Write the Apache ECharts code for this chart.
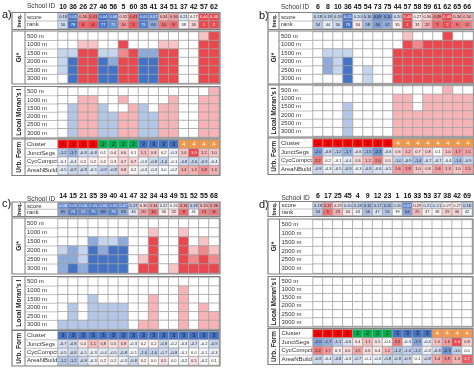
<!DOCTYPE html>
<html><head><meta charset="utf-8">
<script src="https://cdn.jsdelivr.net/npm/echarts@6/dist/echarts.min.js"></script>
<style>html,body{margin:0;padding:0;background:#fff}#c{width:474px;height:369px}</style>
</head><body><div id="c"></div>
<script>
// ---------- row / tick labels ----------
const ineqRows = ['score', 'rank'];
const distRows = ['500 m', '1000 m', '1500 m', '2000 m', '2500 m', '3000 m'];
const formRows = ['Cluster', 'JunctSegs', 'CycCompct', 'AreaNBuild'];
const groupNames = ['Ineq.', 'Gi*', "Local Moran's I", 'Urb. Form'];
const panelLetters = ['a)', 'b)', 'c)', 'd)'];
const idHeader = 'School ID';

// ---------- panel a ----------
const idsA = [10, 36, 26, 27, 46, 56, 5, 60, 35, 41, 34, 51, 37, 42, 57, 62];
const scoreA = [0.18, 0.05, 0.36, 0.41, 0.04, 0.06, 0.32, 0.41, 0.05, 0.07, 0.34, 0.36, 0.21, 0.27, 0.46, 0.46];
const rankA = [50, 78, 6, 4, 77, 71, 16, 5, 75, 63, 10, 8, 38, 30, 1, 2];
const giA = [[0,0,-1,-1,-1,0],[0,0,-1,-3,-3,-3],[0,1,3,3,3,3],[0,1,3,3,3,3],[0,0,-1,-3,-3,-3],[0,0,-1,-2,-3,-3],[0,3,2,3,3,3],[0,0,3,3,3,3],[0,0,-2,-3,-3,-3],[0,0,-2,-3,-3,-3],[0,1,3,3,3,3],[0,1,3,3,3,3],[0,0,0,0,0,0],[0,0,0,0,0,0],[1,3,3,3,3,3],[3,3,3,3,3,3]];
const moranA = [[0,0,0,0,0,0],[0,0,-1,-1,-1,-1],[0,1,1,1,1,1],[0,1,1,1,1,1],[0,0,-1,-1,-1,-1],[0,0,0,-1,-1,-1],[0,1,0,1,1,1],[0,0,1,1,1,1],[0,0,-1,-1,-1,-1],[0,0,0,-1,-1,-1],[0,0,1,1,1,1],[0,1,1,1,1,1],[0,0,0,0,0,0],[0,0,0,0,0,0],[0,1,1,1,1,1],[1,1,1,1,1,1]];
const clusterA = [1,1,1,1,2,2,2,2,3,3,3,3,4,4,4,4];
const junctA = [-1.2,-1.7,-0.8,-0.8,0.1,0.4,0.6,0.1,1.1,0.8,0.2,-0.3,1.0,3.0,1.2,1.0];
const cycA = [-0.1,-0.4,0.2,0.2,0.2,0.3,0.7,0.7,-0.3,-0.8,-1.0,-0.1,-0.8,-1.0,-0.9,-0.4];
const areaA = [-0.5,-0.9,-0.8,-0.5,-0.9,-0.8,0.8,0.2,-0.3,-0.3,0.0,-0.2,1.4,1.3,1.8,1.3];

// ---------- panel b ----------
const idsB = [6, 8, 10, 36, 45, 54, 73, 75, 44, 57, 58, 59, 61, 62, 65, 66];
const scoreB = [0.18, 0.18, 0.18, 0.05, 0.20, 0.16, 0.09, 0.10, 0.20, 0.46, 0.27, 0.30, 0.39, 0.46, 0.34, 0.34];
const rankB = [54, 44, 50, 78, 34, 58, 66, 62, 35, 1, 31, 22, 7, 2, 9, 12];
const giB = [[0,0,0,0,0,0],[0,0,-1,-2,-2,0],[0,0,-1,-1,-1,0],[0,0,-1,-3,-3,-3],[0,0,0,0,0,0],[0,0,0,0,-1,-1],[0,0,0,0,0,0],[0,0,0,0,0,0],[0,0,3,3,3,3],[1,3,3,3,3,3],[0,2,3,3,3,3],[0,3,3,3,3,3],[0,3,3,3,3,3],[3,3,3,3,3,3],[0,3,3,3,3,3],[0,3,3,3,3,3]];
const moranB = [[0,0,0,0,0,0],[0,0,0,0,0,0],[0,0,0,0,0,0],[0,0,-1,-1,-1,-1],[0,0,0,0,0,0],[0,0,0,0,0,0],[0,0,0,0,0,0],[0,0,0,0,0,0],[0,1,1,1,1,1],[0,1,1,1,1,1],[0,0,0,1,1,1],[0,1,1,1,1,1],[0,1,1,1,1,1],[1,1,1,1,1,1],[0,1,1,1,1,1],[0,1,1,1,1,1]];
const clusterB = [1,1,1,1,1,1,1,1,4,4,4,4,4,4,4,4];
const junctB = [-2.0,-0.8,-1.2,-1.7,-0.6,-1.5,-2.3,-0.6,0.6,1.2,0.7,0.8,0.1,1.0,1.7,1.5];
const cycB = [2.2,0.2,-0.1,-0.4,0.6,1.2,2.0,0.5,-1.0,-0.9,-1.4,-0.7,-0.7,-0.4,-1.4,-0.9];
const areaB = [-0.8,-0.3,-0.5,-0.9,-0.3,-0.8,-0.6,-0.5,1.6,1.8,1.0,0.8,1.6,1.3,1.0,1.5];

// ---------- panel c ----------
const idsC = [14, 15, 21, 35, 39, 40, 41, 47, 32, 34, 43, 49, 51, 52, 55, 68];
const scoreC = [0.08, 0.05, 0.06, 0.05, 0.06, 0.05, 0.07, 0.17, 0.30, 0.34, 0.22, 0.26, 0.36, 0.18, 0.33, 0.36];
const rankC = [65, 74, 72, 75, 69, 73, 63, 46, 20, 10, 36, 32, 8, 41, 13, 11];
const giC = [[0,0,0,-1,-2,-2],[0,0,0,-2,-2,-3],[0,0,0,-1,-1,-2],[0,0,-2,-3,-3,-3],[0,0,-1,-2,-3,-3],[0,0,-1,-3,-3,-3],[0,0,-2,-3,-3,-3],[0,0,0,0,0,0],[0,0,0,0,1,3],[0,1,3,3,3,3],[0,0,0,0,0,0],[0,0,0,0,0,1],[0,1,3,3,3,3],[0,0,0,1,2,3],[0,0,1,2,3,3],[0,0,0,1,2,3]];
const moranC = [[0,0,0,0,0,-1],[0,0,0,-1,-1,-1],[0,0,0,0,0,-1],[0,0,-1,-1,-1,-1],[0,0,0,-1,-1,-1],[0,0,0,-1,-1,-1],[0,0,0,-1,-1,-1],[0,0,0,0,0,0],[0,0,0,0,0,1],[0,0,1,1,1,1],[0,0,0,0,0,0],[0,0,0,0,0,0],[0,1,1,1,1,1],[0,0,0,0,0,0],[0,0,0,1,1,1],[0,0,0,0,1,1]];
const clusterC = [3,3,3,3,3,3,3,3,3,3,3,3,3,3,3,3];
const junctC = [-0.7,-0.8,0.4,1.1,0.8,0.5,0.8,-0.3,0.2,0.2,-0.8,-0.2,-0.3,-0.7,-0.2,-0.9];
const cycC = [-0.5,-0.8,-0.5,-0.3,-0.4,-0.5,-0.8,-0.1,-1.0,-1.0,-0.7,-0.8,-0.1,0.0,-0.1,-0.3];
const areaC = [-1.2,-1.2,-0.8,-0.3,0.2,0.2,-0.3,-0.8,0.2,0.0,0.5,0.0,-0.2,0.5,-0.2,0.1];

// ---------- panel d ----------
const idsD = [6, 17, 25, 45, 4, 9, 12, 23, 1, 16, 33, 53, 37, 38, 42, 69];
const scoreD = [0.18, 0.37, 0.29, 0.20, 0.18, 0.15, 0.17, 0.15, 0.20, 0.07, 0.29, 0.21, 0.21, 0.27, 0.27, 0.18];
const rankD = [54, 9, 23, 34, 43, 56, 47, 55, 39, 64, 25, 37, 38, 29, 30, 42];
const giD = [[0,0,0,0,0,0],[0,0,0,0,0,0],[0,0,0,0,0,0],[0,0,0,0,0,0],[0,0,0,0,0,0],[0,0,0,0,0,0],[0,0,0,0,0,0],[0,0,0,0,0,0],[0,0,0,0,0,0],[0,0,0,0,0,0],[0,0,0,0,0,0],[0,0,0,0,0,0],[0,0,0,0,0,0],[0,0,0,0,0,0],[0,0,0,0,0,0],[0,0,0,0,0,0]];
const moranD = [[0,0,0,0,0,0],[0,0,0,0,0,0],[0,0,0,0,0,0],[0,0,0,0,0,0],[0,0,0,0,0,0],[0,0,0,0,0,0],[0,0,0,0,0,0],[0,0,0,0,0,0],[0,0,0,0,0,0],[0,0,0,0,0,0],[0,0,0,0,0,0],[0,0,0,0,0,0],[0,0,0,0,0,0],[0,0,0,0,0,0],[0,0,0,0,0,0],[0,0,0,0,0,0]];
const clusterD = [1,1,1,1,2,2,2,2,3,3,3,3,4,4,4,4];
const junctD = [-2.0,-1.7,-1.1,-0.6,0.4,1.1,0.5,-0.1,2.2,-0.3,-1.9,-0.4,1.0,1.6,3.0,0.8];
const cycD = [2.2,1.7,0.3,0.6,1.5,0.6,0.4,1.2,-1.2,-1.0,-1.2,-0.3,-0.8,-2.3,-1.0,0.0];
const areaD = [-0.8,-0.4,-0.8,-0.3,-0.7,-0.1,-0.3,-0.8,-0.8,-0.9,0.1,-0.8,1.4,1.9,1.3,2.7];

const panels = [
  {ids: idsA, score: scoreA, rank: rankA, gi: giA, moran: moranA, cluster: clusterA, form: [junctA, cycA, areaA]},
  {ids: idsB, score: scoreB, rank: rankB, gi: giB, moran: moranB, cluster: clusterB, form: [junctB, cycB, areaB]},
  {ids: idsC, score: scoreC, rank: rankC, gi: giC, moran: moranC, cluster: clusterC, form: [junctC, cycC, areaC]},
  {ids: idsD, score: scoreD, rank: rankD, gi: giD, moran: moranD, cluster: clusterD, form: [junctD, cycD, areaD]}
];

// ---------- layout (pixels) ----------
const layout = [
  {cl: 58, cr: 219, bl: 12, sx: 25, idY: 6, lx: 2, ly: 15, g: [[13.5, 28.5], [32, 83], [87.5, 137], [140, 174.5]]},
  {cl: 313, cr: 473, bl: 268, sx: 279, idY: 7, lx: 259, ly: 16, g: [[13.5, 28.5], [32, 83], [86, 136], [139, 173.5]]},
  {cl: 58, cr: 219, bl: 12, sx: 25, idY: 199, lx: 2, ly: 204, g: [[203, 215.5], [219, 273], [277.5, 329], [331.5, 365]]},
  {cl: 313, cr: 472, bl: 268, sx: 279.5, idY: 198, lx: 259, ly: 205, g: [[202.5, 215.5], [220, 273], [277.5, 326], [329.5, 363.5]]}
];

const FONT = 'Liberation Sans';
const BLUE = '#4472c4', RED = '#e9484e';
const grids = [], xAxes = [], yAxes = [], series = [], graphics = [];
const idx = {score: [], rank: [], gi: [], moran: [], cluster: [], form: []};

function richLabel(fs, fmt, isStrong) {
  return {
    show: true, fontFamily: FONT,
    formatter: p => { const v = p.value[2]; const s = fmt(v); return isStrong(v) ? '{w|' + s + '}' : '{d|' + s + '}'; },
    rich: {d: {color: '#222', fontSize: fs, fontFamily: FONT}, w: {color: '#fff', fontSize: fs, fontFamily: FONT}}
  };
}
function hm(key, g, data, label) {
  idx[key].push(series.length);
  series.push({
    type: 'heatmap', xAxisIndex: g, yAxisIndex: g, data: data,
    itemStyle: {borderColor: '#a3a3a3', borderWidth: 0.8},
    label: label || {show: false}, emphasis: {disabled: true}, progressive: 0
  });
}

panels.forEach((p, pi) => {
  const L = layout[pi];
  const rowsets = [ineqRows, distRows, distRows, formRows];
  const gBase = grids.length;
  rowsets.forEach((rows, k) => {
    const g = grids.length;
    const top = L.g[k][0], bot = L.g[k][1];
    grids.push({left: L.cl, top: top, width: L.cr - L.cl, height: bot - top});
    xAxes.push({type: 'category', gridIndex: g, data: p.ids.map(String), position: 'top', show: k === 0,
      axisLine: {show: false}, axisTick: {show: false}, splitLine: {show: false},
      axisLabel: {interval: 0, margin: 3, fontFamily: FONT, fontSize: 7, fontWeight: 'bold', color: '#111'}});
    yAxes.push({type: 'category', gridIndex: g, data: rows, inverse: true,
      axisLine: {show: false}, axisTick: {show: false}, splitLine: {show: false},
      axisLabel: {interval: 0, align: 'left', margin: L.cl - L.sx - 2, fontFamily: FONT, fontSize: 6, color: '#333'}});
    // boxes and separators
    graphics.push({type: 'rect', shape: {x: L.bl, y: top - 1, width: L.cr - L.bl + 1, height: bot - top + 2},
      style: {fill: 'none', stroke: '#7f7f7f', lineWidth: 1.2}, silent: true, z: 100});
    graphics.push({type: 'line', shape: {x1: L.sx, y1: top - 1, x2: L.sx, y2: bot + 1},
      style: {stroke: '#7f7f7f', lineWidth: 1}, silent: true, z: 100});
    const h = (bot - top) / rows.length;
    for (let r = 1; r < rows.length; r++) {
      graphics.push({type: 'line', shape: {x1: L.sx, y1: top + r * h, x2: L.cl, y2: top + r * h},
        style: {stroke: '#b0b0b0', lineWidth: 0.8}, silent: true, z: 99});
    }
    graphics.push({type: 'text', x: (L.bl + L.sx) / 2 + 0.5, y: (top + bot) / 2, rotation: Math.PI / 2,
      style: {text: groupNames[k], font: 'bold ' + (k === 0 ? 5.5 : 6.5) + 'px ' + FONT, fill: '#222',
        textAlign: 'center', textVerticalAlign: 'middle'}, silent: true, z: 101});
  });
  graphics.push({type: 'text', x: L.sx + 2, y: L.idY, style: {text: idHeader, font: '6.5px ' + FONT, fill: '#333', textAlign: 'left', textVerticalAlign: 'middle'}});
  graphics.push({type: 'text', x: L.lx, y: L.ly, style: {text: panelLetters[pi], font: '11px ' + FONT, fill: '#111', textAlign: 'left', textVerticalAlign: 'middle'}});

  hm('score', gBase, p.score.map((v, c) => [c, 0, v]), richLabel(4, v => v.toFixed(2), v => v <= 0.08 || v >= 0.44));
  hm('rank', gBase, p.rank.map((v, c) => [c, 1, v]), richLabel(4, v => String(v), v => v >= 70 || v <= 3));
  const giData = [], moData = [];
  p.gi.forEach((col, c) => col.forEach((v, r) => giData.push([c, r, v])));
  p.moran.forEach((col, c) => col.forEach((v, r) => moData.push([c, r, v])));
  hm('gi', gBase + 1, giData);
  hm('moran', gBase + 2, moData);
  hm('cluster', gBase + 3, p.cluster.map((v, c) => [c, 0, v]), richLabel(6, v => String(v), v => v === 4));
  const fData = [];
  p.form.forEach((arr, r) => arr.forEach((v, c) => fData.push([c, r + 1, v])));
  hm('form', gBase + 3, fData, richLabel(4, v => v.toFixed(1), v => Math.abs(v) >= 2.5));
});

const option = {
  animation: false,
  backgroundColor: '#fff',
  grid: grids, xAxis: xAxes, yAxis: yAxes, series: series,
  visualMap: [
    {type: 'continuous', show: false, seriesIndex: idx.score, dimension: 2, min: 0.04, max: 0.46, inRange: {color: [BLUE, '#ffffff', RED]}},
    {type: 'continuous', show: false, seriesIndex: idx.rank, dimension: 2, min: 1, max: 78, inRange: {color: [RED, '#ffffff', BLUE]}},
    {type: 'piecewise', show: false, seriesIndex: idx.gi, dimension: 2, pieces: [
      {value: -3, color: BLUE}, {value: -2, color: '#8eaadb'}, {value: -1, color: '#c6d5ee'}, {value: 0, color: '#ffffff'},
      {value: 1, color: '#f8c3c5'}, {value: 2, color: '#f0898d'}, {value: 3, color: RED}]},
    {type: 'piecewise', show: false, seriesIndex: idx.moran, dimension: 2, pieces: [
      {value: -1, color: '#b4c7e7'}, {value: 0, color: '#ffffff'}, {value: 1, color: '#f6b4b7'}]},
    {type: 'piecewise', show: false, seriesIndex: idx.cluster, dimension: 2, pieces: [
      {value: 1, color: '#ff0000'}, {value: 2, color: '#00b050'}, {value: 3, color: BLUE}, {value: 4, color: '#f79646'}]},
    {type: 'continuous', show: false, seriesIndex: idx.form, dimension: 2, min: -3, max: 3, inRange: {color: [BLUE, '#ffffff', RED]}}
  ],
  graphic: graphics
};
const chart = echarts.init(document.getElementById('c'), null, {renderer: 'canvas'});
chart.setOption(option);
</script></body></html>
